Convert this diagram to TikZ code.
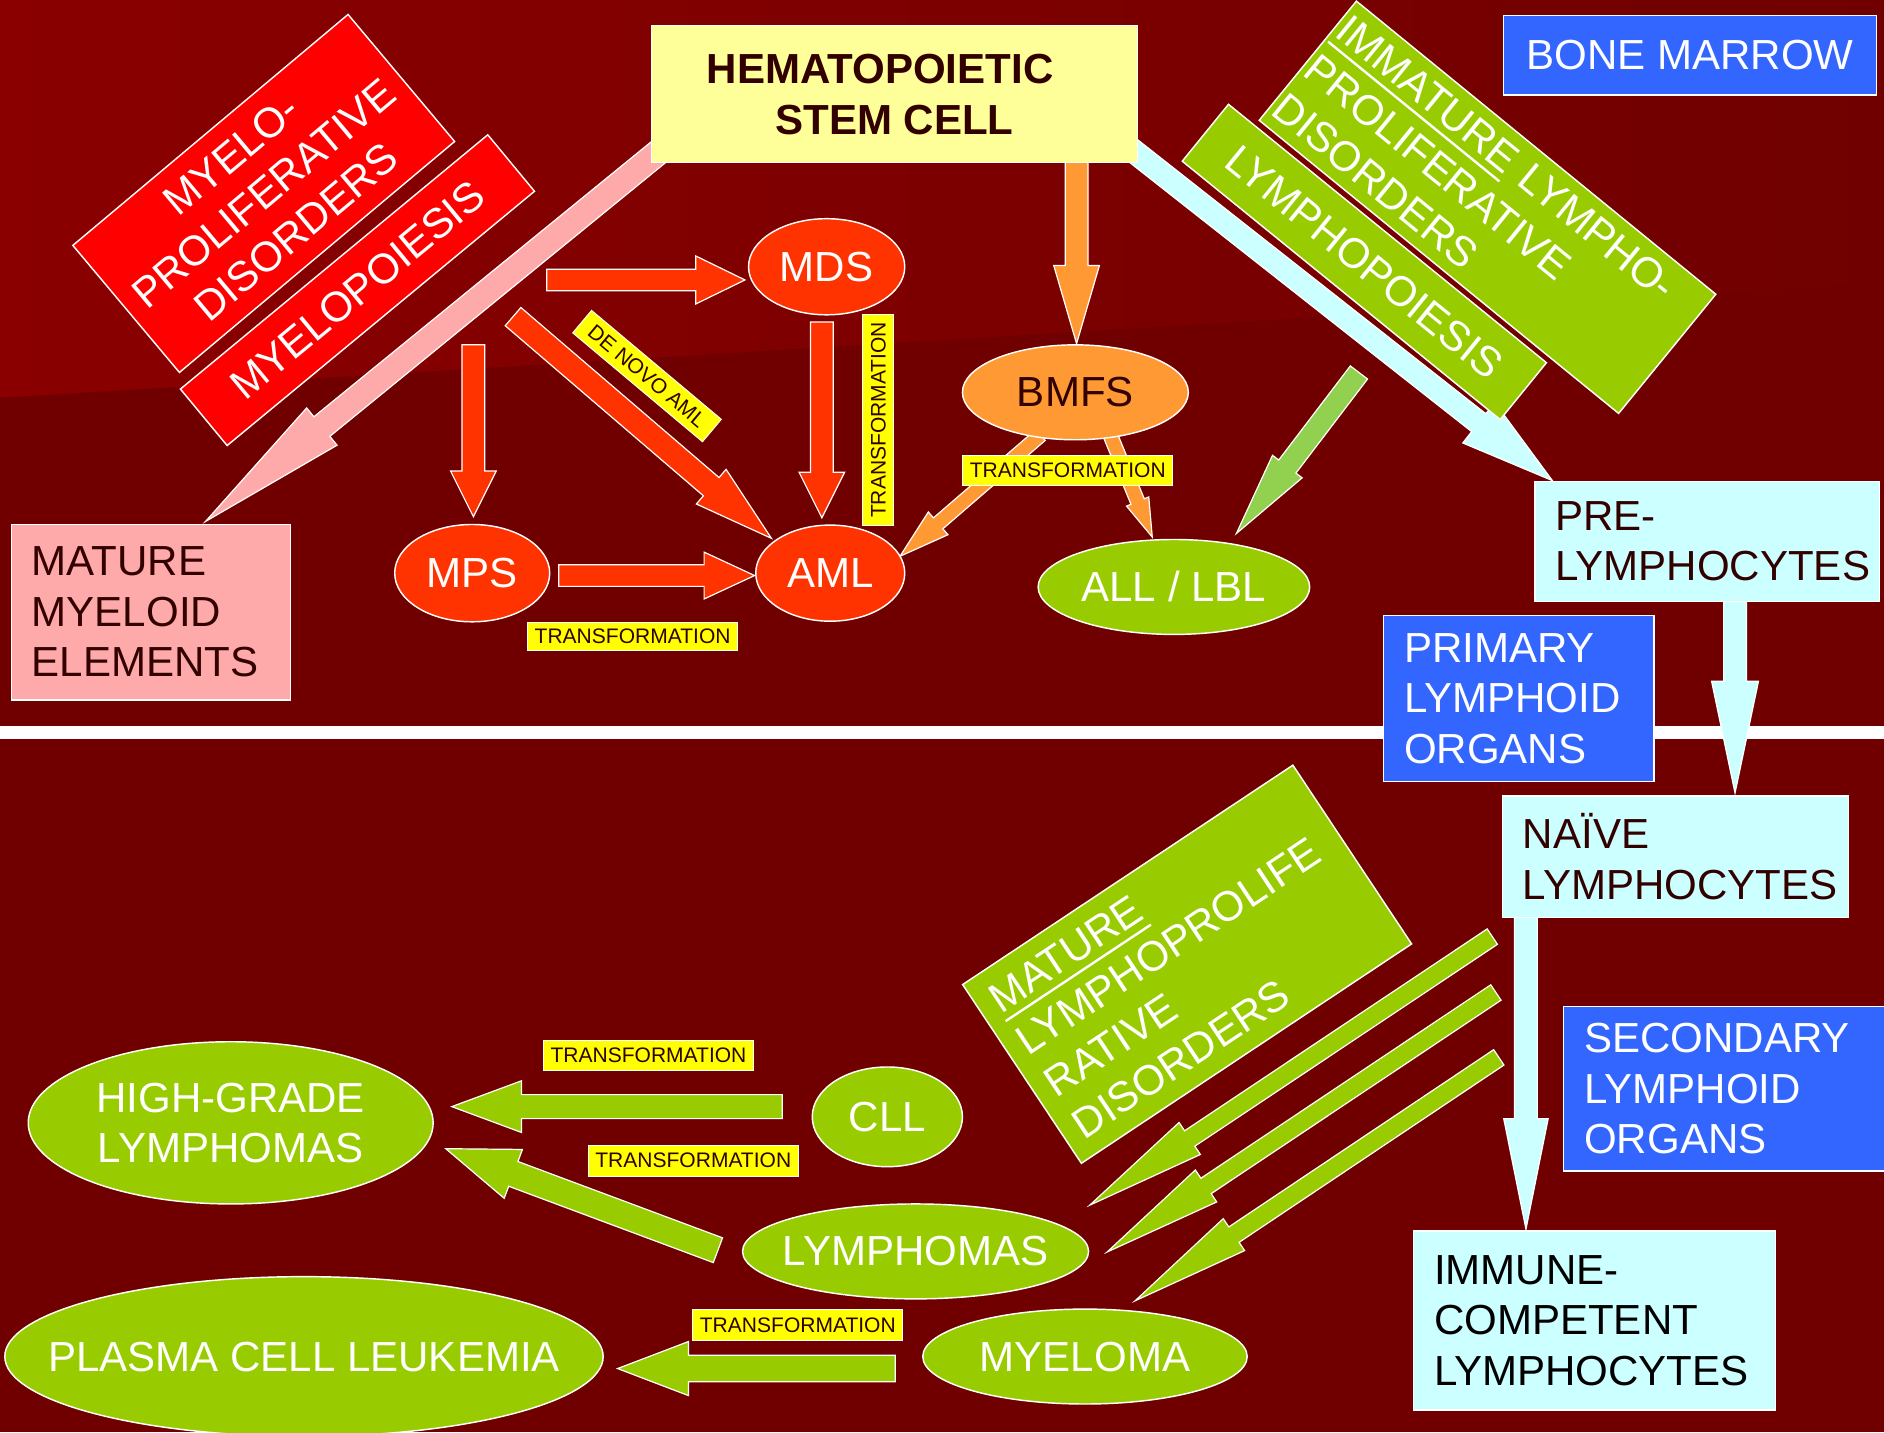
\documentclass[tikz,border=0pt]{standalone}
\usepackage{fontspec}
\setmainfont{Liberation Sans}
\usetikzlibrary{shapes.geometric,calc}

\definecolor{bgmain}{HTML}{700000}
\definecolor{bglight}{HTML}{8A0000}
\definecolor{dark}{HTML}{330000}
\definecolor{myred}{HTML}{FF3300}
\definecolor{boxred}{HTML}{FF0000}
\definecolor{myorange}{HTML}{FF9933}
\definecolor{mypink}{HTML}{FFAAAA}
\definecolor{mycyan}{HTML}{CCFFFF}
\definecolor{mygreen}{HTML}{99CC00}
\definecolor{myltgreen}{HTML}{92D050}
\definecolor{myblue}{HTML}{3366FF}
\definecolor{myyellow}{HTML}{FFFF00}
\definecolor{paleyel}{HTML}{FFFF99}

\hyphenpenalty=10000
\exhyphenpenalty=10000

\newcommand\bigf{\fontsize{35}{42}\selectfont}
\newcommand\smf{\fontsize{17.5}{20}\selectfont}
\newsavebox\ulbox
\newcommand\undl[1]{\sbox\ulbox{#1}\rlap{\rule[-8pt]{\wd\ulbox}{2pt}}\usebox\ulbox}

% block arrow: style, start, tip, shaft half-width, head half-width, head length
\newcommand\blockarrow[6]{%
  \coordinate (ah) at ($(#3)!#6!(#2)$);
  \path[#1] ($(#2)!#4!90:(#3)$) -- ($(ah)!#4!90:(#3)$) -- ($(ah)!#5!90:(#3)$) -- (#3)
    -- ($(ah)!#5!-90:(#3)$) -- ($(ah)!#4!-90:(#3)$) -- ($(#2)!#4!-90:(#3)$) -- cycle;
}

\tikzset{
  arrowbase/.style={draw=white, line width=1pt, line join=miter},
  redarrow/.style={arrowbase, fill=myred},
  orarrow/.style={arrowbase, fill=myorange},
  pinkarrow/.style={arrowbase, fill=mypink},
  cyanarrow/.style={arrowbase, fill=mycyan},
  grnarrow/.style={arrowbase, fill=mygreen},
  ltgrnarrow/.style={arrowbase, fill=myltgreen},
  lbox/.style={rectangle, draw=white, line width=1pt, inner xsep=17pt, inner ysep=0pt,
    align=left, font=\bigf, anchor=north west},
  rbox/.style={rectangle, draw=white, line width=1.2pt, text=white, font=\bigf,
    align=center, inner sep=0pt},
  ell/.style={ellipse, draw=white, line width=1.2pt, inner sep=0pt},
  elltext/.style={font=\bigf, text=white, inner sep=0pt, align=center},
  tlab/.style={rectangle, fill=myyellow, draw=white, line width=0.8pt, inner sep=0pt,
    text=dark, font=\smf},
}

\begin{document}
\begin{tikzpicture}[x=1pt, y=-1pt]
\useasboundingbox (0,0) rectangle (1568,1192);

% background
\fill[bgmain] (0,0) rectangle (1568,1192);
\shade[left color=bglight, right color=bgmain] (0,0) -- (1568,0) -- (1568,235) -- (0,331) -- cycle;
\fill[white] (0,604) rectangle (1568,615);

% arrow end points
\coordinate (p1s) at (550,125);   \coordinate (p1e) at (171,434);
\coordinate (r1s) at (455,233);   \coordinate (r1e) at (620,233);
\coordinate (r2s) at (394,287);   \coordinate (r2e) at (394,430);
\coordinate (r3s) at (427,263.5); \coordinate (r3e) at (642,448);
\coordinate (r4s) at (684,268);   \coordinate (r4e) at (684,431);
\coordinate (r5s) at (465,479);   \coordinate (r5e) at (628,479);
\coordinate (o1s) at (896,130);   \coordinate (o1e) at (896,286);
\coordinate (o2s) at (866,362);   \coordinate (o2e) at (749,463);
\coordinate (o3s) at (924,362);   \coordinate (o3e) at (959,447);
\coordinate (g0s) at (1131,310);  \coordinate (g0e) at (1029,444);
\coordinate (c1s) at (940,123);   \coordinate (c1e) at (1292,400);
\coordinate (c2s) at (1444,497);  \coordinate (c2e) at (1444,660);
\coordinate (c3s) at (1270,761);  \coordinate (c3e) at (1270,1023);
\coordinate (gAs) at (651,921);   \coordinate (gAe) at (376,921);
\coordinate (gBs) at (597.5,1040.5); \coordinate (gBe) at (371,956);
\coordinate (gCs) at (745,1139);  \coordinate (gCe) at (514,1139);
\coordinate (gDs) at (1242,779.5); \coordinate (gDe) at (907,1003);
\coordinate (gEs) at (1245,826);  \coordinate (gEe) at (921.4,1042);
\coordinate (gFs) at (1247.4,880); \coordinate (gFe) at (944.7,1082.6);

% arrows
\blockarrow{pinkarrow}{p1s}{p1e}{10.5pt}{20pt}{125pt}
\blockarrow{redarrow}{r1s}{r1e}{9pt}{20pt}{41pt}
\blockarrow{redarrow}{r2s}{r2e}{9.5pt}{19pt}{38pt}
\blockarrow{redarrow}{r3s}{r3e}{10pt}{19pt}{66pt}
\blockarrow{redarrow}{r4s}{r4e}{9.5pt}{19pt}{38pt}
\blockarrow{redarrow}{r5s}{r5e}{9pt}{19.5pt}{42pt}
\blockarrow{orarrow}{o1s}{o1e}{9.5pt}{19pt}{65pt}
\blockarrow{orarrow}{o2s}{o2e}{6pt}{12.5pt}{42pt}
\blockarrow{orarrow}{o3s}{o3e}{6pt}{10pt}{32pt}
\blockarrow{ltgrnarrow}{g0s}{g0e}{9pt}{15.5pt}{70pt}
\blockarrow{cyanarrow}{c1s}{c1e}{9.5pt}{21.5pt}{78pt}
\blockarrow{cyanarrow}{c2s}{c2e}{9.5pt}{19.5pt}{93pt}
\blockarrow{cyanarrow}{c3s}{c3e}{9.5pt}{18.5pt}{92pt}
\blockarrow{grnarrow}{gAs}{gAe}{10pt}{21.5pt}{58pt}
\blockarrow{grnarrow}{gBs}{gBe}{11pt}{21.7pt}{60pt}
\blockarrow{grnarrow}{gCs}{gCe}{11pt}{22.5pt}{59pt}
\blockarrow{grnarrow}{gDs}{gDe}{7.7pt}{16pt}{100pt}
\blockarrow{grnarrow}{gEs}{gEe}{7.7pt}{16pt}{99pt}
\blockarrow{grnarrow}{gFs}{gFe}{7.7pt}{16pt}{99pt}

% stem cell and bone marrow
\node[rectangle, fill=paleyel, draw=white, line width=1pt, minimum width=404pt,
  minimum height=114pt, inner sep=0pt, align=center, text=dark, font=\bigf\bfseries]
  (hsc) at (744.5,78.5) {HEMATOPOIETIC\kern24pt\\STEM CELL};
\node[rectangle, fill=myblue, draw=white, line width=1pt, minimum width=311pt,
  minimum height=66pt, inner sep=0pt, text=white, font=\bigf] (bm) at (1406.5,46) {BONE MARROW};

% tilted banners
\node[rbox, fill=boxred, minimum width=299pt, minimum height=138pt, rotate=40]
  (mpd) at (219.5,161) {MYELO-\\PROLIFERATIVE\\DISORDERS};
\node[rbox, fill=boxred, minimum width=332pt, minimum height=61pt, rotate=39.6]
  (mpo) at (297.5,241.5) {MYELOPOIESIS};
\node[rbox, fill=mygreen, minimum width=386pt, minimum height=128pt, rotate=-39.2,
  align=left, text width=380pt, inner xsep=3pt]
  (ilpd) at (1238,172.5) {\undl{IMMATURE} LYMPHO-\\PROLIFERATIVE\\DISORDERS};
\node[rbox, fill=mygreen, minimum width=341pt, minimum height=61pt, rotate=-39.1]
  (lpo) at (1135.5,218) {LYMPHOPOIESIS};
\node[rbox, fill=mygreen, minimum width=330pt, minimum height=178.6pt, rotate=33.6,
  align=left, text width=304pt, inner xsep=13pt]
  (mlpd) at (988,802.5) {\undl{MATURE}\\LYMPHOPROLIFE\\RATIVE\\DISORDERS};

% boxes
\node[lbox, fill=mypink, text=dark, text width=198pt, minimum height=146pt]
  (mme) at (9,436) {MATURE\\MYELOID\\ELEMENTS};
\node[lbox, fill=mycyan, text=dark, text width=253pt, minimum height=100pt]
  (pre) at (1277,400) {PRE-\\LYMPHOCYTES};
\node[lbox, fill=myblue, text=white, text width=191pt, minimum height=138pt]
  (plo) at (1151,512) {PRIMARY\\LYMPHOID\\ORGANS};
\node[lbox, fill=mycyan, text=dark, text width=254pt, minimum height=101pt]
  (nai) at (1250,662) {NAÏVE\\LYMPHOCYTES};
\node[lbox, fill=myblue, text=white, text width=240pt, minimum height=137pt]
  (slo) at (1301,837) {SECONDARY\\LYMPHOID\\ORGANS};
\node[lbox, fill=mycyan, text=black, text width=267pt, minimum height=149pt]
  (imm) at (1176,1024) {IMMUNE-\\COMPETENT\\LYMPHOCYTES};

% disease ellipses
\node[ell, fill=myred, minimum width=130pt, minimum height=80pt,
  label={[elltext, name=mdsT]center:MDS}] (mds) at (688,222) {};
\node[ell, fill=myred, minimum width=129pt, minimum height=81pt,
  label={[elltext, name=mpsT]center:MPS}] (mps) at (393,477) {};
\node[ell, fill=myred, minimum width=124pt, minimum height=80pt,
  label={[elltext, name=amlT]center:AML}] (aml) at (691,477) {};
\node[ell, fill=myorange, minimum width=188pt, minimum height=79pt,
  label={[elltext, text=dark, name=bmfsT]center:BMFS}] (bmfs) at (895,326.5) {};
\node[ell, fill=mygreen, minimum width=226pt, minimum height=79pt,
  label={[elltext, name=allT]center:ALL / LBL}] (all) at (977,488.5) {};
\node[ell, fill=mygreen, minimum width=337pt, minimum height=135pt,
  label={[elltext, name=hglT]center:HIGH-GRADE\\LYMPHOMAS}] (hgl) at (192,934.5) {};
\node[ell, fill=mygreen, minimum width=125pt, minimum height=83pt,
  label={[elltext, name=cllT]center:CLL}] (cll) at (738.5,929.5) {};
\node[ell, fill=mygreen, minimum width=288pt, minimum height=79pt,
  label={[elltext, name=lymT]center:LYMPHOMAS}] (lym) at (762,1041.5) {};
\node[ell, fill=mygreen, minimum width=270pt, minimum height=79pt,
  label={[elltext, name=myeT]center:MYELOMA}] (mye) at (903,1129) {};
\node[ell, fill=mygreen, minimum width=498pt, minimum height=133pt,
  label={[elltext, name=pclT]center:PLASMA CELL LEUKEMIA}] (pcl) at (253,1129) {};

% transformation tags
\node[tlab, minimum width=175pt, minimum height=23pt] (t1) at (526.5,529.5) {TRANSFORMATION};
\node[tlab, minimum width=175pt, minimum height=26pt, rotate=90] (t2) at (731,349.5) {TRANSFORMATION};
\node[tlab, minimum width=175pt, minimum height=25pt] (t3) at (888.7,391.2) {TRANSFORMATION};
\node[tlab, minimum width=141pt, minimum height=24.4pt, rotate=-40] (t4) at (538.5,313) {DE NOVO AML};
\node[tlab, minimum width=175pt, minimum height=25.4pt] (t5) at (539.7,878.3) {TRANSFORMATION};
\node[tlab, minimum width=175pt, minimum height=25.5pt] (t6) at (577,966) {TRANSFORMATION};
\node[tlab, minimum width=175pt, minimum height=26pt] (t7) at (664,1103) {TRANSFORMATION};
\end{tikzpicture}
\end{document}
